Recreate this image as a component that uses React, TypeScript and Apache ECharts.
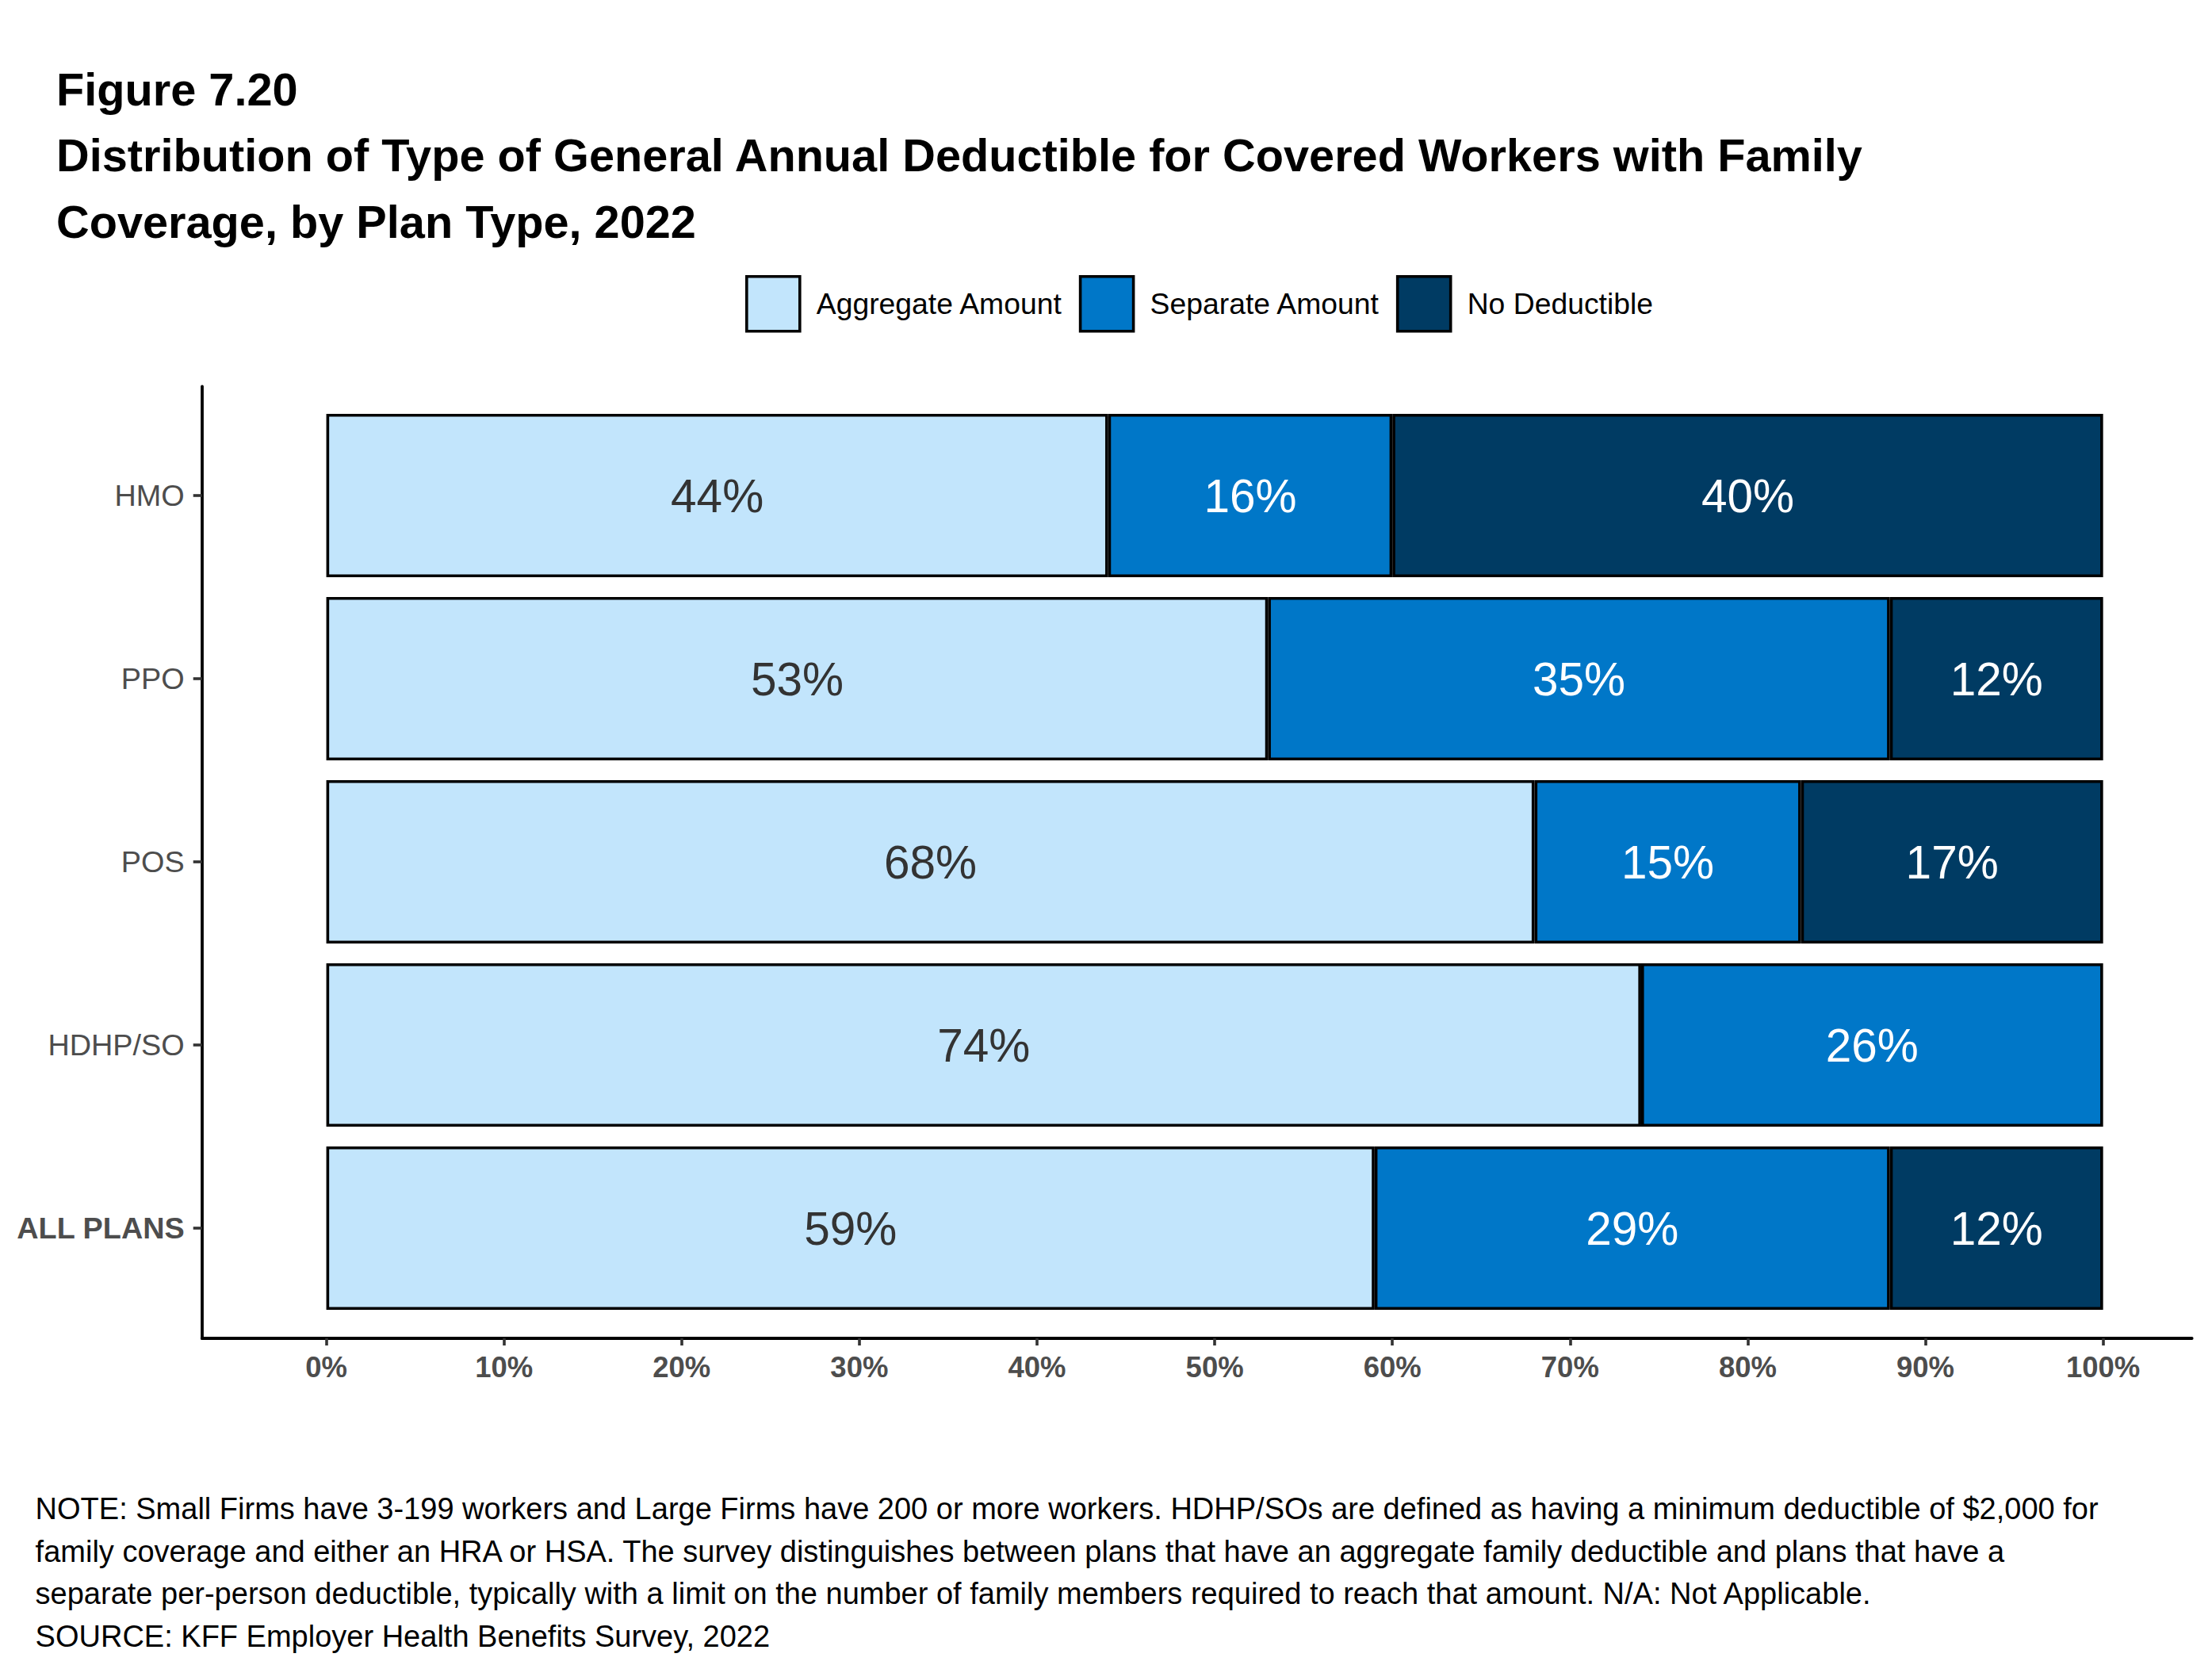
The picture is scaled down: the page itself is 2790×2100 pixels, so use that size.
import React, { useEffect, useRef } from "react";
import * as echarts from "echarts";

const categories = ["HMO", "PPO", "POS", "HDHP/SO", "ALL PLANS"];
const aggregateAmount = [44, 53, 68, 74, 59];
const separateAmount = [16, 35, 15, 26, 29];
const noDeductible = [40, 12, 17, null, 12];
const seriesNames = ["Aggregate Amount", "Separate Amount", "No Deductible"];
const xTickValues = [0, 10, 20, 30, 40, 50, 60, 70, 80, 90, 100];

const titleLines = [
  "Figure 7.20",
  "Distribution of Type of General Annual Deductible for Covered Workers with Family",
  "Coverage, by Plan Type, 2022",
];
const noteLines = [
  "NOTE: Small Firms have 3-199 workers and Large Firms have 200 or more workers. HDHP/SOs are defined as having a minimum deductible of $2,000 for",
  "family coverage and either an HRA or HSA. The survey distinguishes between plans that have an aggregate family deductible and plans that have a",
  "separate per-person deductible, typically with a limit on the number of family members required to reach that amount. N/A: Not Applicable.",
  "SOURCE: KFF Employer Health Benefits Survey, 2022",
];

const FONT = "'Liberation Sans', Arial, Helvetica, sans-serif";
const COLORS = ["#C2E5FC", "#0077C8", "#003B63"];
const LABEL_COLORS = ["#333333", "#FFFFFF", "#FFFFFF"];

export default function App() {
  const ref = useRef<HTMLDivElement>(null);

  useEffect(() => {
    document.body.style.margin = "0";
    if (!ref.current) return;
    const chart = echarts.init(ref.current, null, { renderer: "svg" });

    const values = [aggregateAmount, separateAmount, noDeductible];
    const left = 254.7;
    const right = 25.3;

    const graphics: any[] = [];
    const titleY = [112.5, 196, 279.5];
    titleLines.forEach((t, i) => {
      graphics.push({
        type: "text",
        x: 71,
        y: titleY[i],
        style: {
          text: t,
          fontFamily: FONT,
          fontWeight: "bold",
          fontSize: 57.7,
          fill: "#000000",
          textVerticalAlign: "middle",
          verticalAlign: "middle",
        },
      });
    });
    const noteY = [1903, 1956.5, 2010, 2064];
    noteLines.forEach((t, i) => {
      graphics.push({
        type: "text",
        x: 44.6,
        y: noteY[i],
        style: {
          text: t,
          fontFamily: FONT,
          fontSize: 38,
          fill: "#000000",
          textVerticalAlign: "middle",
          verticalAlign: "middle",
        },
      });
    });

    const option: any = {
      animation: false,
      backgroundColor: "#FFFFFF",
      textStyle: { fontFamily: FONT },
      graphic: graphics,
      legend: {
        data: seriesNames,
        left: 940,
        top: 347,
        padding: 0,
        itemWidth: 67,
        itemHeight: 69,
        itemGap: 20,
        icon: "rect",
        itemStyle: { borderColor: "#000000", borderWidth: 3.6 },
        textStyle: {
          fontFamily: FONT,
          fontSize: 37.3,
          color: "#000000",
          padding: [0, 0, 0, 16],
        },
        selectedMode: false,
      },
      grid: [
        { left, right, top: 509.5, height: 1155, containLabel: false },
        { left, right, top: 487.5, height: 1200.5, containLabel: false },
      ],
      xAxis: [
        {
          type: "value",
          gridIndex: 0,
          min: -7,
          max: 105,
          show: false,
          splitLine: { show: false },
        },
        {
          type: "value",
          gridIndex: 1,
          min: -7,
          max: 105,
          position: "bottom",
          splitLine: { show: false },
          axisLine: {
            show: true,
            onZero: false,
            lineStyle: { color: "#000000", width: 3.8 },
          },
          axisTick: {
            show: true,
            customValues: xTickValues,
            length: 9,
            lineStyle: { color: "#333333", width: 3.6 },
          },
          axisLabel: {
            show: true,
            customValues: xTickValues,
            formatter: (v: number) => `${v}%`,
            fontFamily: FONT,
            fontWeight: "bold",
            fontSize: 36.5,
            color: "#4D4D4D",
            margin: 18,
          },
        },
      ],
      yAxis: [
        {
          type: "category",
          gridIndex: 0,
          data: categories,
          inverse: true,
          position: "left",
          axisLine: { show: false, onZero: false },
          axisTick: {
            show: true,
            alignWithLabel: true,
            length: 11,
            lineStyle: { color: "#333333", width: 3.6 },
          },
          axisLabel: {
            show: true,
            margin: 22,
            fontFamily: FONT,
            fontSize: 37.8,
            color: "#4D4D4D",
            formatter: (v: string) => (v === "ALL PLANS" ? `{b|${v}}` : v),
            rich: {
              b: {
                fontFamily: FONT,
                fontSize: 37.8,
                fontWeight: "bold",
                color: "#4D4D4D",
              },
            },
          },
          splitLine: { show: false },
        },
        {
          type: "value",
          gridIndex: 1,
          min: 0,
          max: 1,
          position: "left",
          axisLine: {
            show: true,
            onZero: false,
            lineStyle: { color: "#000000", width: 3.8 },
          },
          axisTick: { show: false },
          axisLabel: { show: false },
          splitLine: { show: false },
        },
      ],
      series: seriesNames.map((name, i) => ({
        name,
        type: "bar",
        stack: "total",
        xAxisIndex: 0,
        yAxisIndex: 0,
        barWidth: 206,
        data: values[i],
        itemStyle: {
          color: COLORS[i],
          borderColor: "#000000",
          borderWidth: 3.6,
        },
        label: {
          show: true,
          position: "inside",
          formatter: (p: any) => (p.value == null ? "" : `${p.value}%`),
          fontFamily: FONT,
          fontSize: 58.5,
          color: LABEL_COLORS[i],
        },
        emphasis: { disabled: true },
      })),
    };

    chart.setOption(option);
    return () => chart.dispose();
  }, []);

  return <div ref={ref} style={{ width: 2790, height: 2100 }} />;
}
